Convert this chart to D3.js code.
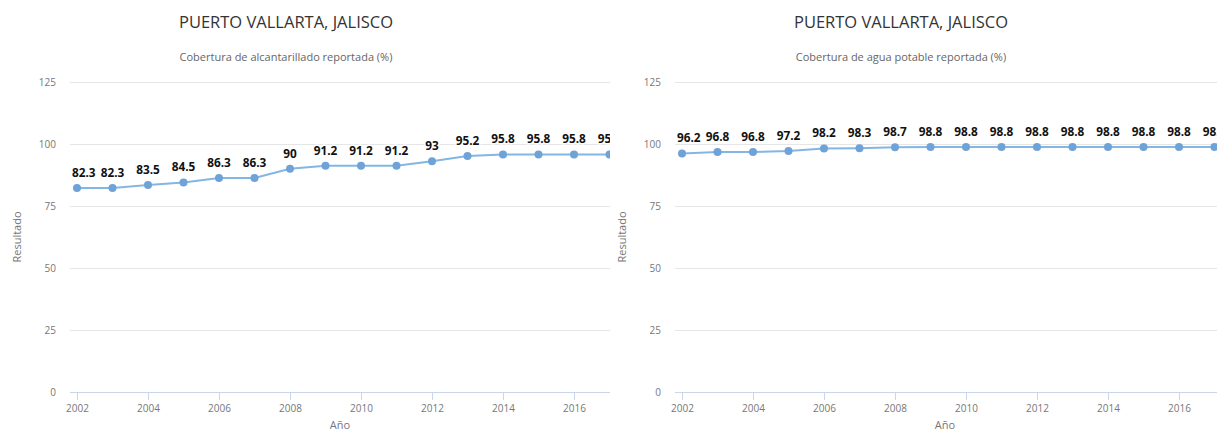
<!DOCTYPE html>
<html>
<head>
<meta charset="utf-8">
<script src="https://cdn.jsdelivr.net/npm/d3@7"></script>
<style>
  html, body { margin: 0; padding: 0; background: #ffffff; }
  svg { display: block; }
  text { font-family: "Open Sans", "DejaVu Sans", sans-serif; }
</style>
</head>
<body>
<svg id="chart" width="1217" height="437"></svg>
<script>
// Reported coverage, Puerto Vallarta, Jalisco
const years = [2002, 2003, 2004, 2005, 2006, 2007, 2008, 2009, 2010, 2011, 2012, 2013, 2014, 2015, 2016, 2017];
const sewerage = [82.3, 82.3, 83.5, 84.5, 86.3, 86.3, 90, 91.2, 91.2, 91.2, 93, 95.2, 95.8, 95.8, 95.8, 95.8];
const drinkingWater = [96.2, 96.8, 96.8, 97.2, 98.2, 98.3, 98.7, 98.8, 98.8, 98.8, 98.8, 98.8, 98.8, 98.8, 98.8, 98.8];
const yTicks = [0, 25, 50, 75, 100, 125];
const xTicks = [2002, 2004, 2006, 2008, 2010, 2012, 2014, 2016];

const panels = [
  { title: "PUERTO VALLARTA, JALISCO", subtitle: "Cobertura de alcantarillado reportada (%)", values: sewerage, offset: 0, width: 610, titleX: 286 },
  { title: "PUERTO VALLARTA, JALISCO", subtitle: "Cobertura de agua potable reportada (%)", values: drinkingWater, offset: 605, width: 612, titleX: 296 }
];

const svg = d3.select("#chart");

panels.forEach((p, i) => {
  const g = svg.append("g").attr("transform", `translate(${p.offset},0)`);
  const clipId = "clip" + i;
  svg.append("defs").append("clipPath").attr("id", clipId)
    .append("rect").attr("x", 0).attr("y", 0).attr("width", p.width).attr("height", 437);
  g.attr("clip-path", `url(#${clipId})`);

  const plotLeft = 70, plotRight = p.width;
  const x = d3.scaleLinear().domain([2002, 2017]).range([77, 77 + 15 * 35.5]);
  const y = d3.scaleLinear().domain([0, 125]).range([392, 82]);

  // titles
  g.append("text").attr("x", p.titleX).attr("y", 28).attr("text-anchor", "middle")
    .attr("font-size", 16.5).attr("fill", "#333").text(p.title);
  g.append("text").attr("x", p.titleX).attr("y", 61).attr("text-anchor", "middle")
    .attr("font-size", 11).attr("fill", "#666").text(p.subtitle);

  // horizontal grid
  g.append("g").selectAll("line").data(yTicks).join("line")
    .attr("x1", plotLeft).attr("x2", plotRight)
    .attr("y1", d => y(d) + 0.5).attr("y2", d => y(d) + 0.5)
    .attr("stroke", "#e6e6e6").attr("stroke-width", 1);

  // y axis labels
  const yAxis = d3.axisLeft(y).tickValues(yTicks).tickSize(0).tickPadding(0);
  const ya = g.append("g").attr("transform", `translate(${plotLeft - 14},0)`).call(yAxis);
  ya.select(".domain").remove();
  ya.selectAll("text").attr("font-size", 10).attr("fill", "#777")
    .attr("font-family", "'Open Sans', sans-serif");

  // x axis
  const xAxis = d3.axisBottom(x).tickValues(xTicks).tickFormat(d3.format("d")).tickSize(8).tickPadding(5);
  const xa = g.append("g").attr("transform", "translate(0,392)").call(xAxis);
  xa.select(".domain").attr("d", `M${plotLeft},0.5H${plotRight}`).attr("stroke", "#ccd6eb");
  xa.selectAll(".tick line").attr("stroke", "#ccd6eb");
  xa.selectAll("text").attr("font-size", 10).attr("fill", "#777")
    .attr("font-family", "'Open Sans', sans-serif");

  // axis titles
  g.append("text").attr("transform", `translate(21,${y(62.5)}) rotate(-90)`)
    .attr("text-anchor", "middle").attr("font-size", 11).attr("fill", "#777").text("Resultado");
  g.append("text").attr("x", 340).attr("y", 429).attr("text-anchor", "middle")
    .attr("font-size", 11).attr("fill", "#777").text("Año");

  // series line
  const pts = years.map((yr, k) => ({ yr, v: p.values[k] }));
  g.append("path").datum(pts)
    .attr("fill", "none").attr("stroke", "#84b6e4").attr("stroke-width", 2)
    .attr("d", d3.line().x(d => x(d.yr)).y(d => y(d.v)));

  g.append("g").selectAll("circle").data(pts).join("circle")
    .attr("cx", d => x(d.yr)).attr("cy", d => y(d.v)).attr("r", 4)
    .attr("fill", "#6fa3d8");

  // data labels, kept inside the plot's left edge
  const labels = g.append("g").selectAll("text").data(pts).join("text")
    .attr("y", d => y(d.v) - 11)
    .attr("font-family", "'DejaVu Sans Condensed', 'DejaVu Sans', sans-serif")
    .attr("font-weight", "bold").attr("font-size", 11.8).attr("fill", "#111")
    .attr("stroke", "#fff").attr("stroke-width", 3).attr("paint-order", "stroke")
    .attr("stroke-linejoin", "round")
    .text(d => d3.format("")(d.v));
  labels.each(function (d) {
    const w = this.getComputedTextLength();
    let lx = x(d.yr) - w / 2;
    if (lx < plotLeft + 2) lx = plotLeft + 2;
    d3.select(this).attr("x", lx);
  });
});
</script>
</body>
</html>
